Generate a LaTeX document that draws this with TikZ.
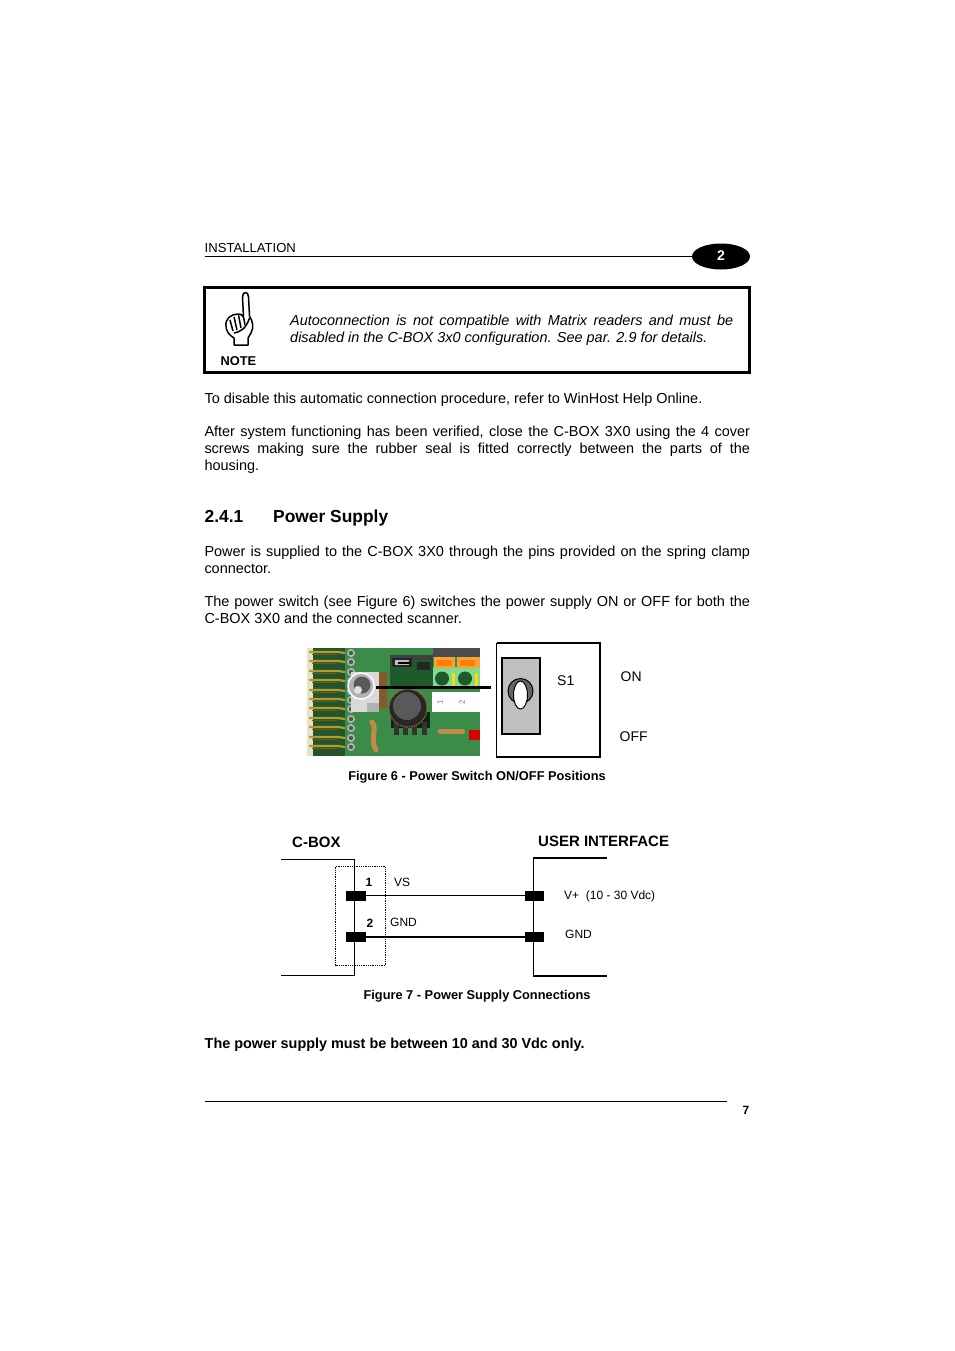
\documentclass[tikz,border=0pt]{standalone}
\usepackage{fontspec}
\usetikzlibrary{shapes.geometric}
\setmainfont{Liberation Sans}
\definecolor{pcb}{HTML}{3A8C48}
\definecolor{pcbd}{HTML}{1F5A2C}
\definecolor{gold}{HTML}{B59A2E}
\definecolor{goldd}{HTML}{6E5A18}
\definecolor{cream}{HTML}{E8E2C8}
\definecolor{orangeb}{HTML}{F5A23A}
\definecolor{lgreen}{HTML}{7FDC8E}
\definecolor{tanc}{HTML}{C08A4A}
\tikzset{
 x=1pt,y=-1pt,
 para/.style={anchor=north west,inner sep=0pt,outer sep=0pt,text width=545.5pt,align=justify,font=\fontsize{14.47}{16.7}\selectfont},
 lab/.style={inner sep=0pt,font=\fontsize{14}{16}\selectfont},
 smalllab/.style={inner sep=0pt,font=\fontsize{12}{14}\selectfont},
 capt/.style={inner sep=0pt,font=\fontsize{12.8}{15}\selectfont\bfseries},
 head/.style={inner sep=0pt,font=\fontsize{15}{18}\selectfont\bfseries},
 sechead/.style={inner sep=0pt,font=\fontsize{17.4}{20}\selectfont\bfseries},
 pad/.style={fill=black,inner sep=0pt,minimum height=10pt},
 spring/.style={draw=gold,line width=2.2pt},
 hole/.style={draw=gray!60,fill=gray!30!pcbd,line width=1.6pt},
}
\begin{document}
\begin{tikzpicture}
\useasboundingbox (0,0) rectangle (954,1351);
\fill[white] (0,0) rectangle (954,1351);
% header
\node[lab,anchor=base west] (inst) at (204.5,252) {\fontsize{13.1}{16}\selectfont INSTALLATION};
\node[fill=black,ellipse,minimum width=58pt,minimum height=26pt,inner sep=0pt] (chap) at (721,256.5) {};
\node[text=white,inner sep=0pt,font=\fontsize{14}{16}\selectfont\bfseries] (chapn) at (721,256) {2};
\coordinate (hl) at (204.5,256.5);
\draw[line width=1pt] (hl) -- (chap);
% note box
\node[draw=black,line width=3pt,outer sep=0pt,anchor=north west,minimum width=545pt,minimum height=85pt,inner sep=0pt] (note) at (204.5,287.5) {};
\begin{scope}[line width=1.5pt,line join=round]
\draw (243.5,317) -- (242.5,297) .. controls (242.5,291) and (248.5,291) .. (248.5,297) -- (249.5,316)
 .. controls (253,322) and (254,327) .. (251,333) -- (248,338) -- (248,345) -- (234,345) -- (234,338)
 .. controls (229,335) and (226,331) .. (226,326) .. controls (225,319) and (231,314) .. (238,314) .. controls (240,313) and (242,315) .. (243.5,317);
\draw (230,320) -- (233,331) (234,317) -- (237,330) (238.5,315) -- (241,328) (243.5,317) -- (245,325);
\draw (234,333) .. controls (240,332) and (246,329) .. (249.5,318);
\end{scope}
\node[inner sep=0pt,font=\fontsize{12.8}{15}\selectfont\bfseries,anchor=base] (notel) at (238.5,365) {NOTE};
\node[anchor=north west,inner sep=0pt,text width=443pt,align=justify,font=\fontsize{14.47}{16.7}\selectfont\itshape] (notet) at (290,315) {Autoconnection is not compatible with Matrix readers and must be\linebreak disabled in the C-BOX 3x0 configuration. See par. 2.9 for details.};
% body
\node[para] (p1) at (204.5,393.5) {To disable this automatic connection procedure, refer to WinHost Help Online.};
\node[para] (p2) at (204.5,426.5) {After system functioning has been verified, close the C-BOX 3X0 using the 4 cover\linebreak screws making sure the rubber seal is fitted correctly between the parts of the\linebreak housing.};
\node[sechead,anchor=base west] (secn) at (204.5,522) {2.4.1};
\node[sechead,anchor=base west] (sect) at (273,522) {Power Supply};
\node[para] (p3) at (204.5,546.5) {Power is supplied to the C-BOX 3X0 through the pins provided on the spring clamp\linebreak connector.};
\node[para] (p4) at (204.5,596.5) {The power switch (see Figure 6) switches the power supply ON or OFF for both the\linebreak C-BOX 3X0 and the connected scanner.};
% photo
\fill[pcb] (307,648) rectangle (480,756);
\fill[cream] (307,648) rectangle (313,756);
\fill[pcb!60!black] (313,648) rectangle (345,756);
\foreach \yy in {652,661,671,680,690,699,708,718,727,737,746}{
 \draw[spring] (309,\yy) -- (338,\yy) -- (345,\yy+1);
 \draw[goldd,line width=1pt] (312,\yy+2.5) -- (337,\yy+2.5);
 \draw[hole] (351,\yy+1) circle[radius=3.2];
}
\fill[gray!30] (351,672) rectangle (379,712);
\fill[gray!60] (367,703) rectangle (379,712);
\fill[brown!70!black] (379,672) rectangle (387,708);
\fill[pcbd] (390,655) rectangle (433,688);
\fill[black!75] (390,655) rectangle (433,660);
\fill[black!85] (392,658) rectangle (412,667);
\fill[gray!50] (395,660) rectangle (409,665);
\fill[black] (398,661.5) rectangle (410,663.5);
\fill[black!85] (417,662) rectangle (430,670);
\fill[black!70] (433,648) rectangle (480,657);
\fill[white] (432,692) rectangle (480,712);
\node[inner sep=0pt,rotate=90,font=\fontsize{8}{9}\selectfont,text=gray] (ph1) at (440,702) {1};
\node[inner sep=0pt,rotate=90,font=\fontsize{8}{9}\selectfont,text=gray] (ph2) at (462,702) {2};
\fill[lgreen] (433,667) rectangle (480,688);
\foreach \xx in {434,457}{
 \fill[orangeb] (\xx,657) rectangle (\xx+21,668);
 \fill[orange] (\xx+3,660) rectangle (\xx+18,666);
 \fill[pcbd] (\xx+8,678.5) circle[radius=7];
 \fill[yellow!80!orange] (\xx+18,673) rectangle (\xx+21,686);
}
\fill[orangeb] (478,657) rectangle (480,668);
\fill[black!60!pcbd] (391,712) rectangle (430,728);
\foreach \xx in {396,405,414,424}{\fill[black!80] (\xx-2.5,722) rectangle (\xx+2.5,735);}
\fill[black!85] (408,708) circle[radius=19];
\draw[brown!80!black,densely dotted,line width=1.3pt] (408,708) circle[radius=19];
\fill[black!65] (407,706) circle[radius=14];
\draw[tanc,line width=5pt,line cap=round] (372,722) .. controls (378,730) and (369,738) .. (376,750);
\draw[tanc,line width=4.5pt,line cap=round] (440,731.5) -- (463,731.5);
\fill[red!85!black] (469,730) rectangle (480,740);
\draw[white,line width=1.4pt,fill=gray!60] (361,686) circle[radius=13];
\fill[black!65] (362,685) circle[radius=8.5];
\fill[gray!25] (358,690) circle[radius=4];
% switch
\node[draw=black,outer sep=0pt,anchor=north west,minimum width=103.5pt,minimum height=114pt,inner sep=0pt,line width=.8pt] (s1box) at (496.5,643) {};
\draw[line width=1.6pt] (s1box.north west) -- (s1box.north east) -- (s1box.south east) -- (s1box.south west);
\node[draw=black,outer sep=0pt,fill=gray!50,line width=1.4pt,anchor=north west,minimum width=38pt,minimum height=76pt,inner sep=0pt] (lever) at (502,658) {};
\fill[gray!80!black] (520.5,691) circle[radius=12.5];
\draw[line width=1pt] (520.5,691) circle[radius=12.5];
\draw[fill=white,line width=1pt] (520.5,695) ellipse[x radius=7,y radius=14];
\draw[line width=3pt] (376,687.5) -- (491,687.5);
\node[lab,anchor=base west] (s1) at (557,685) {S1};
\node[lab,anchor=base west] (on) at (620.5,681) {ON};
\node[lab,anchor=base west] (off) at (619.5,741) {OFF};
\node[capt,anchor=base] (fig6) at (477,780) {Figure 6 - Power Switch ON/OFF Positions};
% connection diagram
\node[head,anchor=base west] (cbox) at (292,847) {C-BOX};
\node[head,anchor=base west] (ui) at (538,846) {USER INTERFACE};
\draw[line width=1pt] (281,859) -- (354.5,859) -- (354.5,975.5) -- (281,975.5);
\draw[line width=1.6pt] (606.5,858) -- (533.5,858) -- (533.5,976) -- (606.5,976);
\draw[densely dotted,line width=.8pt] (335.5,866.5) rectangle (385.5,965.5);
\node[pad,minimum width=20pt] (a1) at (356,895.5) {};
\node[pad,minimum width=19pt] (b1) at (534.5,895.5) {};
\node[pad,minimum width=20pt] (a2) at (356,937) {};
\node[pad,minimum width=19pt] (b2) at (534.5,937) {};
\draw[line width=1pt] (a1) -- (b1);
\draw[line width=1.8pt] (a2) -- (b2);
\node[smalllab,anchor=base,font=\fontsize{12}{14}\selectfont\bfseries] (n1) at (369,886) {1};
\node[smalllab,anchor=base,font=\fontsize{12}{14}\selectfont\bfseries] (n2) at (370,927) {2};
\node[smalllab,anchor=base west] (vs) at (394,886) {VS};
\node[smalllab,anchor=base west] (gnda) at (390,926) {GND};
\node[smalllab,anchor=base west] (vp) at (564,899) {V+\ \ (10 - 30 Vdc)};
\node[smalllab,anchor=base west] (gndb) at (565,938) {GND};
\node[capt,anchor=base] (fig7) at (477,999) {Figure 7 - Power Supply Connections};
\node[anchor=base west,inner sep=0pt,font=\fontsize{14.4}{16}\selectfont\bfseries] (warn) at (204.5,1048) {The power supply must be between 10 and 30 Vdc only.};
% footer
\coordinate (fa) at (204.5,1101.5);
\coordinate (fb) at (727,1101.5);
\draw[line width=.8pt] (fa) -- (fb);
\node[inner sep=0pt,anchor=base east,font=\fontsize{12}{14}\selectfont\bfseries] (pg) at (749.5,1114) {7};
\end{tikzpicture}
\end{document}
